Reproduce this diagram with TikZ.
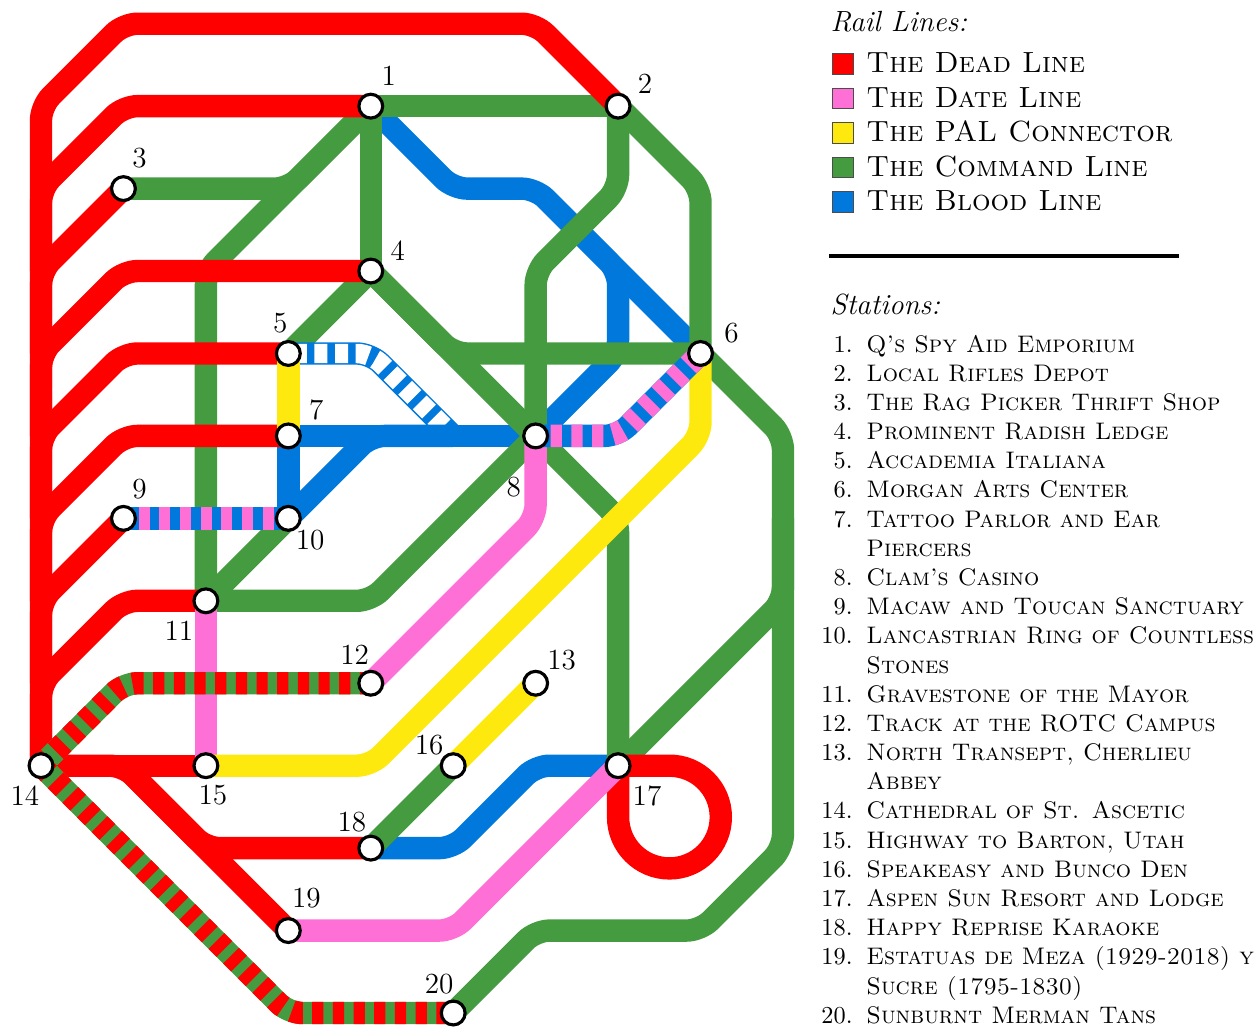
\documentclass[tikz,border=0pt]{standalone}
\usepackage{amsmath,amssymb}
\usetikzlibrary{calc}
\definecolor{deadred}{HTML}{FF0000}
\definecolor{datepink}{HTML}{FF70D6}
\definecolor{palyellow}{HTML}{FEE90E}
\definecolor{cmdgreen}{HTML}{459B40}
\definecolor{bloodblue}{HTML}{0078DC}

\begin{document}
\begin{tikzpicture}[x=33.9pt, y=33.9pt,
  rail/.style={line width=9.2pt, rounded corners=5.7pt},
  dead/.style={rail, draw=deadred},
  datel/.style={rail, draw=datepink},
  pal/.style={rail, draw=palyellow},
  cmd/.style={rail, draw=cmdgreen},
  blood/.style={rail, draw=bloodblue},
  stripe/.style={rail, dash pattern=on 4.6pt off 3.9pt},
  stn/.style={circle, draw=black, fill=white, line width=1.3pt, inner sep=0pt, minimum size=9.8pt},
  numlab/.style={font=\large, inner sep=0pt},
  swatch/.style={rectangle, draw=black!70, line width=0.4pt, inner sep=0pt, minimum size=8.4pt},
  leglab/.style={font=\large\scshape, anchor=base west, inner sep=0pt},
  head/.style={font=\large\itshape, anchor=base west, inner sep=0pt},
  itemlab/.style={font=\fontsize{9.85}{12}\selectfont\scshape, anchor=base west, inner sep=0pt},
  itemnum/.style={font=\normalsize, anchor=base east, inner sep=0pt}]
\useasboundingbox (-0.4975,-0.158) rectangle (14.75,12.288);
% ----- station positions on the grid -----
\foreach \n/\col/\row in {1/4/11, 2/7/11, 3/1/10, 4/4/9, 5/3/8, 6/8/8, 7/3/7, 8/6/7, 9/1/6, 10/3/6,
  11/2/5, 12/4/4, 13/6/4, 14/0/3, 15/2/3, 16/5/3, 17/7/3, 18/4/2, 19/3/1, 20/5/0}{
  \coordinate (s\n) at (\col,\row);
}
% ----- white stripes sit over this green, under the blue -----
\draw[cmd] (s4) -- (s5);
\draw[blood] (s5) -- (4,8) -- (5,7);
\draw[rail, draw=white, line width=8pt, dash pattern=on 5.4pt off 3.1pt, dash phase=-2.2pt] (s5) -- (4,8) -- (5,7);
% ----- blood line -----
\draw[blood] (s1) -- (5,10) -- (6,10) -- (s6);
\draw[blood] (6.5,9.5) -- (7,9) -- (7,8) -- (s8);
\draw[blood] (s7) -- (s8);
\draw[blood] (s7) -- (s10);
\draw[blood] (s10) -- (4,7) -- (5,7);
\draw[blood] (s18) -- (5,2) -- (6,3) -- (s17);
% ----- command line -----
\draw[cmd] (s1) -- (s2);
\draw[cmd] (s1) -- (s4);
\draw[cmd] (s2) -- (8,10) -- (s6);
\draw[cmd] (s6) -- (9,7) -- (9,2) -- (8,1) -- (6,1) -- (s20);
\draw[cmd] (s1) -- (2,9) -- (s11);
\draw[cmd] (s3) -- (3,10) -- (s1);
\draw[cmd] (s4) -- (s8);
\draw[cmd] (s4) -- (5,8) -- (s6);
\draw[cmd] (s2) -- (7,10) -- (6,9) -- (s8);
\draw[cmd] (s8) -- (7,6) -- (s17);
\draw[cmd] (s17) -- (9,5) -- (9,6);
\draw[cmd] (s8) -- (4,5) -- (s11);
\draw[cmd] (s11) -- (s10);
\draw[cmd] (s16) -- (s18);
% ----- dead line -----
\draw[dead] (s14) -- (0,11) -- (1,12) -- (6,12) -- (s2);
\draw[dead] (0,9) -- (0,10) -- (1,11) -- (s1);
\draw[dead] (0,8) -- (0,9) -- (s3);
\draw[dead] (0,7) -- (0,8) -- (1,9) -- (s4);
\draw[dead] (0,6) -- (0,7) -- (1,8) -- (s5);
\draw[dead] (0,5) -- (0,6) -- (1,7) -- (s7);
\draw[dead] (0,4) -- (0,5) -- (s9);
\draw[dead] (0,3) -- (0,4) -- (1,5) -- (s11);
\draw[dead] (s14) -- (s15);
\draw[dead] (s14) -- (1,3) -- (s19);
\draw[dead] (1,3) -- (2,2) -- (s18);
\draw[dead, rounded corners=0pt] (s17) -- (7.623,3) arc[start angle=90, end angle=-180, radius=0.623] -- (s17);
% ----- date line -----
\draw[datel] (s11) -- (s15);
\draw[datel] (s12) -- (6,6) -- (s8);
\draw[datel] (s19) -- (5,1) -- (s17);
% ----- PAL connector -----
\draw[pal] (s5) -- (s7);
\draw[pal] (s15) -- (4,3) -- (8,7) -- (s6);
\draw[pal] (s16) -- (s13);
% ----- shared track -----
\draw[blood] (s9) -- (s10);
\draw[stripe, draw=datepink, dash phase=2.3pt] (s9) -- (s10);
\draw[blood] (s8) -- (7,7) -- (s6);
\draw[stripe, draw=datepink, dash phase=2.3pt] (s8) -- (7,7) -- (s6);
\draw[cmd] (s14) -- (1,4) -- (s12);
\draw[stripe, draw=deadred] (s14) -- (1,4) -- (s12);
\draw[cmd] (s14) -- (3,0) -- (s20);
\draw[stripe, draw=deadred] (s14) -- (3,0) -- (s20);
% ----- stations and their numbers -----
\foreach \n/\dx/\dy in {1/7.4/12.3, 2/11.1/9, 3/6.6/12.7, 4/11.1/8.2, 5/-3.3/12.3, 6/12.7/8.2, 7/11.5/10.7,
  8/-9/-21, 9/6.6/11.9, 10/9/-9, 11/-11.1/-12.3, 12/-6.6/11.5, 13/10.7/9.5, 14/-6.6/-12.3, 15/2.9/-12.3,
  16/-9.9/8.6, 17/11.9/-12.3, 18/-7.8/10.7, 19/7.4/13.2, 20/-5.8/11.9}{
  \node[stn] (st\n) at (s\n) {};
  \node[numlab] (lab\n) at ([xshift=\dx pt, yshift=\dy pt]s\n) {\n};
}
% ----- legend -----
\node[head] (railhead) at (9.573,11.90) {Rail Lines:};
\foreach \c/\lbl [count=\i from 0] in {deadred/The Dead Line, datepink/The Date Line, palyellow/The PAL Connector,
  cmdgreen/The Command Line, bloodblue/The Blood Line}{
  \node[swatch, fill=\c] (sw\i) at (9.73,{11.51-\i*0.4185}) {};
  \node[leglab] (leg\i) at (10.006,{11.404-\i*0.4185}) {\lbl};
}
\coordinate (ruleL) at (9.558,9.182);
\coordinate (ruleR) at (13.80,9.182);
\draw[line width=1.65pt] (ruleL) -- (ruleR);
\node[head] (stnhead) at (9.573,8.467) {Stations:};
\foreach \n/\l/\txt in {1/0/{Q's Spy Aid Emporium}, 2/1/{Local Rifles Depot}, 3/2/{The Rag Picker Thrift Shop},
  4/3/{Prominent Radish Ledge}, 5/4/{Accademia Italiana}, 6/5/{Morgan Arts Center},
  7/6/{Tattoo Parlor and Ear}, 8/8/{Clam's Casino}, 9/9/{Macaw and Toucan Sanctuary},
  10/10/{Lancastrian Ring of Countless}, 11/12/{Gravestone of the Mayor},
  12/13/{Track at the ROTC Campus}, 13/14/{North Transept, Cherlieu}, 14/16/{Cathedral of St. Ascetic},
  15/17/{Highway to Barton, Utah}, 16/18/{Speakeasy and Bunco Den}, 17/19/{Aspen Sun Resort and Lodge},
  18/20/{Happy Reprise Karaoke}, 19/21/{Estatuas de Meza (1929-2018) y},
  20/23/{Sunburnt Merman Tans}}{
  \node[itemnum] (num\n) at (9.85,{8.018-\l*0.354}) {\n.};
  \node[itemlab] (item\n) at (10.006,{8.018-\l*0.354}) {\txt};
}
% ----- wrapped second lines -----
\foreach \l/\txt in {7/Piercers, 11/Stones, 15/Abbey, 22/Sucre (1795-1830)}{
  \node[itemlab] (more\l) at (10.006,{8.018-\l*0.354}) {\txt};
}
\end{tikzpicture}
\end{document}
